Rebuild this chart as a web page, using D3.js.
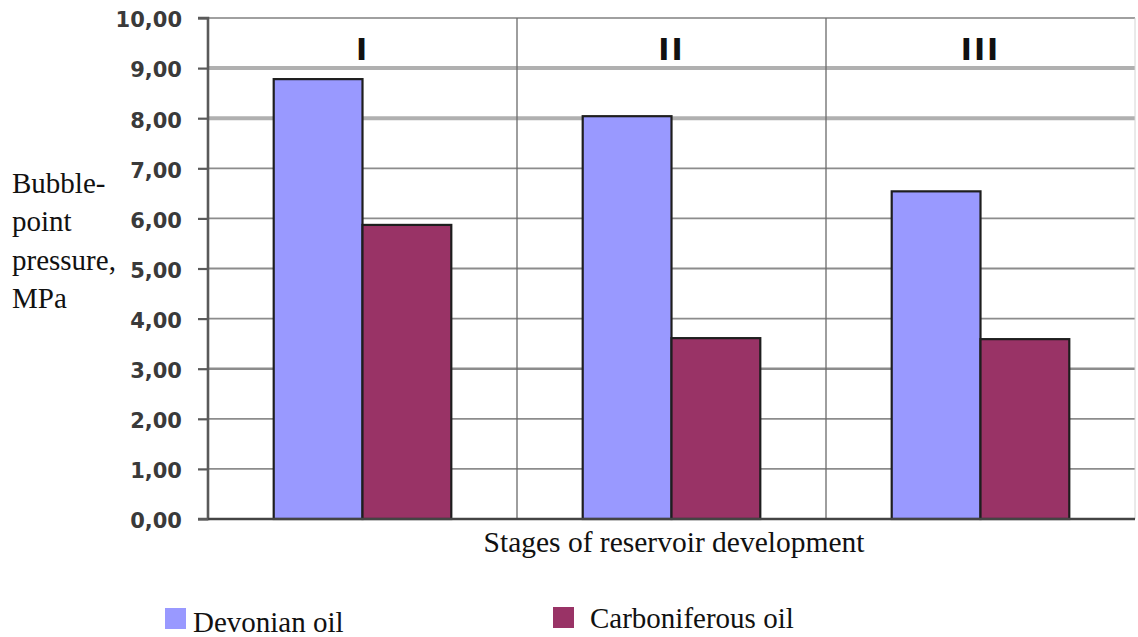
<!DOCTYPE html>
<html>
<head>
<meta charset="utf-8">
<script src="https://cdn.jsdelivr.net/npm/d3@7"></script>
<style>
  html, body { margin: 0; padding: 0; background: #fff; }
  svg { display: block; }
</style>
</head>
<body>
<svg id="chart" width="1138" height="637"></svg>
<script>
// Development stages and bubble-point pressures (MPa)
const stages = ["I", "II", "III"];
const seriesNames = ["Devonian oil", "Carboniferous oil"];
const devonian = [8.78, 8.04, 6.54];
const carboniferous = [5.87, 3.61, 3.59];
const yTicks = [0, 1, 2, 3, 4, 5, 6, 7, 8, 9, 10];

const colors = ["#9999ff", "#993366"];
const serif = "'Liberation Serif', 'Times New Roman', serif";
const sans = "'DejaVu Sans', Verdana, sans-serif";
const svg = d3.select("#chart");

const plot = { left: 208, right: 1135, top: 18, bottom: 519 };

const x = d3.scaleBand().domain(stages).range([plot.left, plot.right]);
const xInner = d3.scaleBand().domain(seriesNames).range([0, x.bandwidth()]).paddingInner(0).paddingOuter(0.74);
const y = d3.scaleLinear().domain([0, 10]).range([plot.bottom, plot.top]);

const fmt = v => d3.format(".2f")(v).replace(".", ",");

// Horizontal gridlines
const heavy = new Set([9, 8]);
svg.append("g").selectAll("line").data(yTicks.filter(t => t > 0)).join("line")
  .attr("x1", plot.left).attr("x2", plot.right)
  .attr("y1", d => y(d)).attr("y2", d => y(d))
  .attr("stroke", d => heavy.has(d) ? "#b0b0b0" : d === 10 ? "#a0a0a0" : "#8c8c8c")
  .attr("stroke-width", d => heavy.has(d) ? 4 : d === 3 ? 2.6 : 1.8);

// Stage dividers
svg.append("g").selectAll("line").data(stages.slice(1)).join("line")
  .attr("x1", d => x(d)).attr("x2", d => x(d))
  .attr("y1", plot.top).attr("y2", plot.bottom)
  .attr("stroke", "#6a6a6a").attr("stroke-width", 1.3);

// Right frame edge
svg.append("line")
  .attr("x1", plot.right).attr("x2", plot.right)
  .attr("y1", plot.top).attr("y2", plot.bottom)
  .attr("stroke", "#d4d4d4").attr("stroke-width", 1);

// Bars
const rows = stages.map((s, i) => ({ stage: s, values: [devonian[i], carboniferous[i]] }));
const groups = svg.append("g").selectAll("g").data(rows).join("g")
  .attr("transform", d => `translate(${x(d.stage)},0)`);
groups.selectAll("rect").data(d => d.values.map((v, j) => ({ name: seriesNames[j], v, j }))).join("rect")
  .attr("x", d => xInner(d.name))
  .attr("width", xInner.bandwidth())
  .attr("y", d => y(d.v))
  .attr("height", d => y(0) - y(d.v))
  .attr("fill", d => colors[d.j])
  .attr("stroke", "#1e1e1e")
  .attr("stroke-width", 2.2);

// Stage labels
svg.append("g").selectAll("text").data(stages).join("text")
  .attr("x", d => x(d) + x.bandwidth() / 2)
  .attr("y", 60)
  .attr("text-anchor", "middle")
  .attr("font-family", sans)
  .attr("font-weight", "bold")
  .attr("font-size", 30)
  .attr("letter-spacing", 2)
  .attr("fill", "#111")
  .text(d => d);

// Y axis
const yAxis = d3.axisLeft(y).tickValues(yTicks).tickSize(10).tickPadding(16).tickFormat(fmt);
const ya = svg.append("g").attr("transform", `translate(${plot.left},0)`).call(yAxis);
ya.select(".domain").attr("stroke", "#5a5a5a").attr("stroke-width", 2.6).attr("d", `M-10,${plot.top}H0V${plot.bottom}H-10`);
ya.selectAll(".tick line").attr("stroke", "#5a5a5a").attr("stroke-width", 2.2);
ya.selectAll(".tick text")
  .attr("font-family", sans)
  .attr("font-weight", "bold")
  .attr("font-size", 21)
  .attr("dy", "0.42em")
  .attr("fill", "#3a3a3a");

// Bottom axis line
svg.append("line")
  .attr("x1", plot.left).attr("x2", plot.right)
  .attr("y1", plot.bottom).attr("y2", plot.bottom)
  .attr("stroke", "#444").attr("stroke-width", 2.4);

// Y title
const yTitle = ["Bubble-", "point", "pressure,", "MPa"];
svg.append("text")
  .attr("font-family", serif)
  .attr("font-size", 29)
  .attr("fill", "#111")
  .selectAll("tspan").data(yTitle).join("tspan")
  .attr("x", 12)
  .attr("y", (d, i) => 193 + i * 38.3)
  .text(d => d);

// X title
svg.append("text")
  .attr("x", 674).attr("y", 552)
  .attr("text-anchor", "middle")
  .attr("font-family", serif)
  .attr("font-size", 29.5)
  .attr("fill", "#111")
  .text("Stages of reservoir development");

// Legend
const legendPos = [{ x: 165, y: 608, tx: 193, ty: 632 }, { x: 553, y: 607, tx: 590, ty: 628 }];
const lg = svg.append("g").selectAll("g").data(seriesNames).join("g");
lg.append("rect")
  .attr("x", (d, i) => legendPos[i].x).attr("y", (d, i) => legendPos[i].y)
  .attr("width", 21).attr("height", 21)
  .attr("fill", (d, i) => colors[i]);
lg.append("text")
  .attr("x", (d, i) => legendPos[i].tx)
  .attr("y", (d, i) => legendPos[i].ty)
  .attr("font-family", serif)
  .attr("font-size", 29)
  .attr("fill", "#111")
  .text(d => d);
</script>
</body>
</html>
